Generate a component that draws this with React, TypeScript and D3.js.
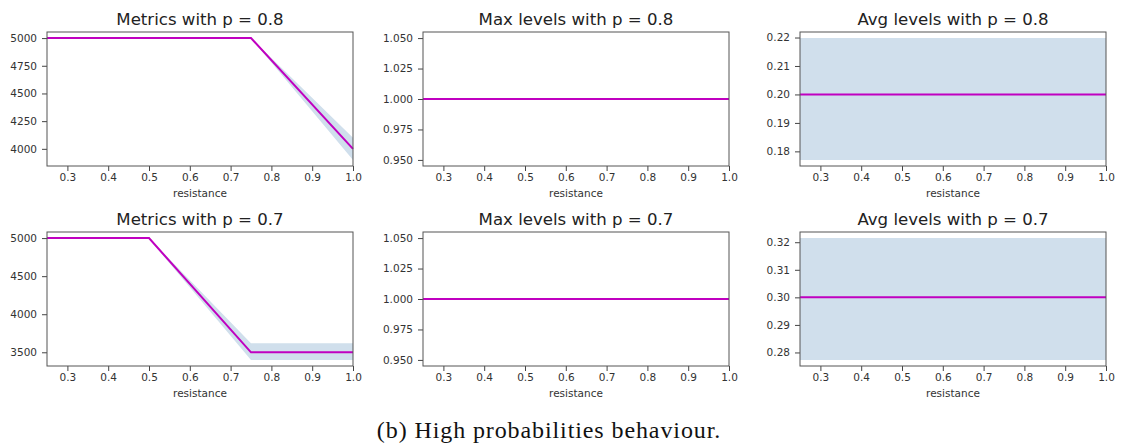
import { useEffect, useRef } from "react";
import * as d3 from "d3";

// resistance values where the runs were sampled
const resistance = [0.25, 0.5, 0.75, 1.0];
const xTicks = [0.3, 0.4, 0.5, 0.6, 0.7, 0.8, 0.9, 1.0];

// p = 0.8
const metrics08 = [5000, 5000, 5000, 4000];
const metrics08Lo = [5000, 5000, 5000, 3900];
const metrics08Hi = [5000, 5000, 5000, 4100];
const maxLevels08 = [1, 1, 1, 1];
const avgLevels08 = [0.2, 0.2, 0.2, 0.2];
const avgLevels08Lo = [0.177, 0.177, 0.177, 0.177];
const avgLevels08Hi = [0.2198, 0.2198, 0.2198, 0.2198];

// p = 0.7
const metrics07 = [5000, 5000, 3500, 3500];
const metrics07Lo = [4990, 4990, 3400, 3400];
const metrics07Hi = [5000, 5000, 3620, 3620];
const maxLevels07 = [1, 1, 1, 1];
const avgLevels07 = [0.3, 0.3, 0.3, 0.3];
const avgLevels07Lo = [0.2773, 0.2773, 0.2773, 0.2773];
const avgLevels07Hi = [0.3215, 0.3215, 0.3215, 0.3215];

const metricsTicks08 = [4000, 4250, 4500, 4750, 5000];
const metricsTicks07 = [3500, 4000, 4500, 5000];
const maxTicks = [0.95, 0.975, 1.0, 1.025, 1.05];
const avgTicks08 = [0.18, 0.19, 0.2, 0.21, 0.22];
const avgTicks07 = [0.28, 0.29, 0.3, 0.31, 0.32];

const panels = [
  { title: "Metrics with p = 0.8", mean: metrics08, lo: metrics08Lo, hi: metrics08Hi, ticks: metricsTicks08, fmt: "d", col: 0, row: 0 },
  { title: "Max levels with p = 0.8", mean: maxLevels08, lo: null, hi: null, ticks: maxTicks, fmt: ".3f", col: 1, row: 0 },
  { title: "Avg levels with p = 0.8", mean: avgLevels08, lo: avgLevels08Lo, hi: avgLevels08Hi, ticks: avgTicks08, fmt: ".2f", col: 2, row: 0 },
  { title: "Metrics with p = 0.7", mean: metrics07, lo: metrics07Lo, hi: metrics07Hi, ticks: metricsTicks07, fmt: "d", col: 0, row: 1 },
  { title: "Max levels with p = 0.7", mean: maxLevels07, lo: null, hi: null, ticks: maxTicks, fmt: ".3f", col: 1, row: 1 },
  { title: "Avg levels with p = 0.7", mean: avgLevels07, lo: avgLevels07Lo, hi: avgLevels07Hi, ticks: avgTicks07, fmt: ".2f", col: 2, row: 1 },
];

export default function App() {
  const svgRef = useRef<SVGSVGElement>(null);

  useEffect(() => {
    const svg = d3.select(svgRef.current);
    svg.selectAll("*").remove();

    const lefts = [47, 423, 800];
    const tops = [32, 232];
    const w = 306;
    const h = 134;

    panels.forEach((p) => {
      const g = svg.append("g").attr("transform", `translate(${lefts[p.col]},${tops[p.row]})`);

      const x = d3.scaleLinear().domain([0.25, 1.0]).range([0, w]);

      // matplotlib style 5% margins around the data (band included)
      let lo = d3.min(p.lo ?? p.mean) as number;
      let hi = d3.max(p.hi ?? p.mean) as number;
      if (hi === lo) {
        lo = lo - lo * 0.05;
        hi = hi + hi * 0.05;
      }
      const pad = (hi - lo) * 0.05;
      const y = d3.scaleLinear().domain([lo - pad, hi + pad]).range([h, 0]);

      if (p.lo && p.hi) {
        const area = d3
          .area<number>()
          .x((_, i) => x(resistance[i]))
          .y0((_, i) => y(p.lo![i]))
          .y1((_, i) => y(p.hi![i]));
        g.append("path").attr("d", area(p.mean)).attr("fill", "#d0dfec");
      }

      const line = d3
        .line<number>()
        .x((_, i) => x(resistance[i]))
        .y((d) => y(d));
      g.append("path")
        .attr("d", line(p.mean))
        .attr("fill", "none")
        .attr("stroke", "#c000c0")
        .attr("stroke-width", 2);

      const xAxis = d3.axisBottom(x).tickValues(xTicks).tickFormat(d3.format(".1f")).tickSize(5).tickPadding(3);
      const yAxis = d3.axisLeft(y).tickValues(p.ticks).tickFormat(d3.format(p.fmt)).tickSize(5).tickPadding(5);

      const xa = g.append("g").attr("transform", `translate(0,${h})`).call(xAxis);
      const ya = g.append("g").call(yAxis);
      [xa, ya].forEach((a) => {
        a.select(".domain").remove();
        a.selectAll("line").attr("stroke", "#444");
        a.selectAll("text").attr("fill", "#333").style("font-family", "DejaVu Sans").style("font-size", "10.5px");
      });

      g.append("rect")
        .attr("width", w)
        .attr("height", h)
        .attr("fill", "none")
        .attr("stroke", "#555")
        .attr("stroke-width", 1);

      g.append("text")
        .attr("x", w / 2)
        .attr("y", -7)
        .attr("text-anchor", "middle")
        .style("font-family", "DejaVu Sans")
        .style("font-size", "16.6px")
        .attr("fill", "#222")
        .text(p.title);

      g.append("text")
        .attr("x", w / 2)
        .attr("y", h + 31)
        .attr("text-anchor", "middle")
        .style("font-family", "DejaVu Sans")
        .style("font-size", "10.5px")
        .attr("fill", "#333")
        .text("resistance");
    });

    svg.append("text")
      .attr("x", 549)
      .attr("y", 438)
      .attr("text-anchor", "middle")
      .style("font-family", "Liberation Serif")
      .style("font-size", "24px")
      .style("letter-spacing", "0.9px")
      .attr("fill", "#111")
      .text("(b) High probabilities behaviour.");
  }, []);

  return (
    <svg
      ref={svgRef}
      width={1122}
      height={446}
      style={{ position: "absolute", left: 0, top: 0, background: "#fff" }}
    />
  );
}
